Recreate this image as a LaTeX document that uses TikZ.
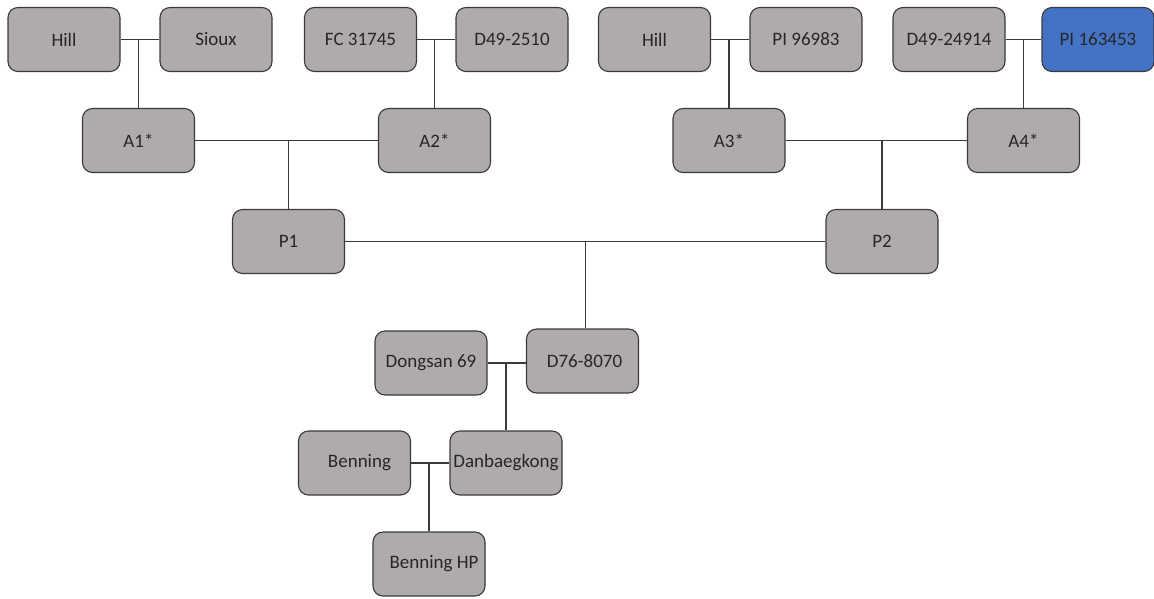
\documentclass[tikz,border=0pt]{standalone}
\usepackage{fontspec}
\setmainfont{Carlito}
\usetikzlibrary{calc}
\definecolor{boxgray}{HTML}{AFABAB}
\definecolor{boxblue}{HTML}{4472C4}
\definecolor{edgecol}{HTML}{3A3A3A}
\definecolor{txtcol}{HTML}{262626}
\tikzset{
  pbox/.style={draw=edgecol, line width=1.1pt, fill=boxgray, rounded corners=10pt,
    minimum width=112pt, minimum height=64pt, inner sep=0pt,
    text=txtcol, font=\fontsize{19}{22}\selectfont},
  bluebox/.style={pbox, fill=boxblue},
  link/.style={draw=edgecol, line width=1.1pt}
}
\begin{document}
\begin{tikzpicture}[x=1pt,y=-1pt]
\useasboundingbox (0,0) rectangle (1154,598);
% top row
\node[pbox] (hillA) at (64,39.5) {Hill};
\node[pbox] (sioux) at (216,39.5) {Sioux};
\node[pbox] (fc) at (360.5,39.5) {FC 31745};
\node[pbox] (dfive) at (512,39.5) {D49-2510};
\node[pbox] (hillB) at (654.5,39.5) {Hill};
\node[pbox] (pinine) at (806,39.5) {PI 96983};
\node[pbox] (dtwo) at (949,39.5) {D49-24914};
\node[bluebox] (pione) at (1098,39.5) {PI 163453};
% second row
\node[pbox] (aone) at (138.5,140.5) {A1*};
\node[pbox] (atwo) at (434.5,140.5) {A2*};
\node[pbox] (athree) at (729,140.5) {A3*};
\node[pbox] (afour) at (1023.5,140.5) {A4*};
% third row
\node[pbox] (pone) at (288.5,241.5) {P1};
\node[pbox] (ptwo) at (882,241.5) {P2};
% lower part
\node[pbox] (dong) at (431,363) {Dongsan 69};
\node[pbox] (dseven) at (582.5,361) {\hspace*{4pt}D76-8070};
\node[pbox] (benn) at (354.5,463) {\hspace*{10pt}Benning};
\node[pbox] (danb) at (506,463) {Danbaegkong};
\node[pbox] (bennhp) at (429,564) {\hspace*{10pt}Benning HP};
% connectors
\draw[link] (hillA.east) -- (sioux.west);
\draw[link] (aone.north) -- (aone.north |- hillA.east);
\draw[link] (fc.east) -- (dfive.west);
\draw[link] (atwo.north) -- (atwo.north |- fc.east);
\draw[link] (hillB.east) -- (pinine.west);
\draw[link] (athree.north) -- (athree.north |- hillB.east);
\draw[link] (dtwo.east) -- (pione.west);
\draw[link] (afour.north) -- (afour.north |- dtwo.east);
\draw[link] (aone.east) -- (atwo.west);
\draw[link] (pone.north) -- (pone.north |- aone.east);
\draw[link] (athree.east) -- (afour.west);
\draw[link] (ptwo.north) -- (ptwo.north |- athree.east);
\draw[link] (pone.east) -- (ptwo.west);
\coordinate (pmid) at ($(pone.east)!0.5!(ptwo.west)$);
\draw[link] (pmid) -- (pmid |- dseven.north);
\draw[link] (dong.east) -- (dseven.west |- dong.east);
\draw[link] (danb.north) -- (danb.north |- dong.east);
\draw[link] (benn.east) -- (danb.west);
\draw[link] (bennhp.north) -- (bennhp.north |- benn.east);
\end{tikzpicture}
\end{document}
